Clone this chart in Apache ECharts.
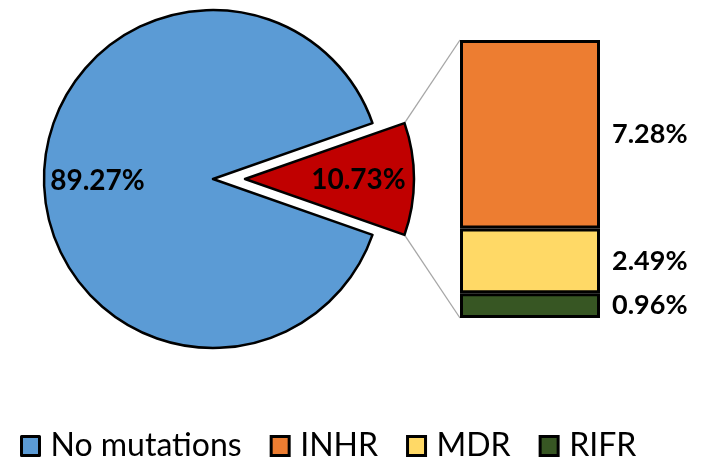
<!DOCTYPE html>
<html>
<head>
<meta charset="utf-8">
<script src="https://cdn.jsdelivr.net/npm/echarts@6/dist/echarts.min.js"></script>
<style>
  html, body { margin: 0; padding: 0; background: #fff; }
  #chart { width: 709px; height: 459px; }
</style>
</head>
<body>
<div id="chart"></div>
<script>
// Share of isolates (%), main pie
const pieNames = ['Mutations', 'No mutations'];
const pieValues = [10.73, 89.27];
const pieColors = ['#C00000', '#5B9BD5'];

// Breakdown of the mutated share (%), stacked bar
const barNames = ['INHR', 'MDR', 'RIFR'];
const barValues = [7.28, 2.49, 0.96];
const barColors = ['#ED7D31', '#FFD966', '#375623'];

const legendNames = ['No mutations', 'INHR', 'MDR', 'RIFR'];

const FONT = 'Lato';
const mutatedTotal = pieValues[0];
// half the mutated slice's sweep, so it sits centred on the right-hand side
const startAngle = pieValues[0] / pieValues.reduce((a, b) => a + b, 0) * 360 / 2;

const PIE_CENTER = [213, 179];
const PIE_RADIUS = 169;
const EXPLODE = 32;
// horizontal nudges of the two pie labels
const PIE_LABEL_SHIFT = [26, -14];

const chart = echarts.init(document.getElementById('chart'), null, { renderer: 'canvas' });

const pieData = pieNames.map((n, i) => ({
  name: n,
  value: pieValues[i],
  selected: i === 0,
  itemStyle: { color: pieColors[i] }
}));

// stack from the bottom: RIFR, MDR, INHR
const barSeries = barNames.map((n, i) => ({
  name: n,
  type: 'bar',
  stack: 'mut',
  barWidth: '100%',
  z: 3,
  data: [barValues[i]],
  itemStyle: { color: barColors[i], borderColor: '#000', borderWidth: 3 },
  label: {
    show: true,
    position: 'right',
    distance: 12,
    formatter: '{c}%',
    color: '#000',
    fontFamily: FONT,
    fontWeight: 'bold',
    fontSize: 27
  },
  emphasis: { disabled: true }
})).reverse();

chart.setOption({
  animation: false,
  backgroundColor: '#fff',
  legend: {
    data: legendNames,
    left: 15,
    top: 425,
    itemWidth: 18,
    itemHeight: 19,
    itemGap: 28,
    icon: 'rect',
    selectedMode: false,
    itemStyle: { borderColor: '#000', borderWidth: 3 },
    textStyle: { fontFamily: FONT, fontSize: 32, color: '#000', padding: [0, 0, 0, 6] }
  },
  grid: { left: 460, top: 40, width: 140, height: 278 },
  xAxis: { type: 'category', data: [''], show: false },
  yAxis: { type: 'value', min: 0, max: mutatedTotal, show: false },
  series: [
    {
      name: 'share',
      type: 'pie',
      center: PIE_CENTER,
      radius: PIE_RADIUS,
      startAngle: startAngle,
      clockwise: true,
      selectedMode: 'single',
      selectedOffset: EXPLODE,
      z: 2,
      data: pieData,
      itemStyle: { borderColor: '#000', borderWidth: 2.5 },
      select: { itemStyle: { borderColor: '#000', borderWidth: 2.5 } },
      emphasis: { disabled: true, scale: false },
      label: {
        show: true,
        position: 'inside',
        formatter: '{c}%',
        color: '#000',
        fontFamily: FONT,
        fontWeight: 'bold',
        fontSize: 28
      },
      labelLayout: function (params) {
        return { dx: PIE_LABEL_SHIFT[params.dataIndex], dy: 1 };
      },
      labelLine: { show: false }
    }
  ].concat(barSeries)
});

// connector lines from the exploded slice's outer corners to the bar's left edge
function drawConnectors() {
  const rect = chart.getModel().getComponent('grid').coordinateSystem.getRect();
  const yTop = chart.convertToPixel({ yAxisIndex: 0 }, mutatedTotal);
  const yBot = chart.convertToPixel({ yAxisIndex: 0 }, 0);
  const half = startAngle * Math.PI / 180;
  const cx = PIE_CENTER[0] + EXPLODE;
  const cy = PIE_CENTER[1];
  const up = [cx + PIE_RADIUS * Math.cos(half), cy - PIE_RADIUS * Math.sin(half)];
  const dn = [cx + PIE_RADIUS * Math.cos(half), cy + PIE_RADIUS * Math.sin(half)];
  const lineStyle = { stroke: '#A6A6A6', lineWidth: 1.3 };
  chart.setOption({
    graphic: [
      { type: 'line', z: 1, silent: true, shape: { x1: up[0], y1: up[1], x2: rect.x, y2: yTop }, style: lineStyle },
      { type: 'line', z: 1, silent: true, shape: { x1: dn[0], y1: dn[1], x2: rect.x, y2: yBot }, style: lineStyle }
    ]
  });
}
drawConnectors();
</script>
</body>
</html>
